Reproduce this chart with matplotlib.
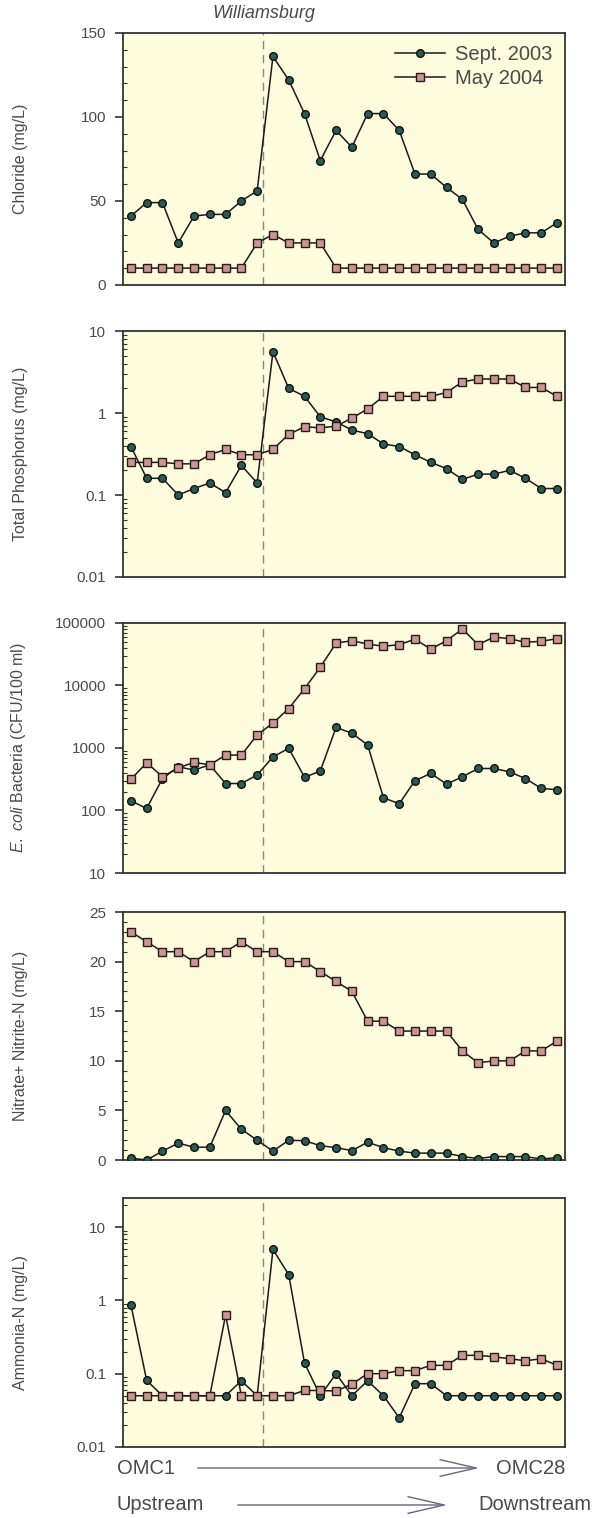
import matplotlib
matplotlib.use("Agg")
import matplotlib.pyplot as plt
import numpy as np
from matplotlib.ticker import MultipleLocator, LogLocator, NullFormatter

plt.rcParams['font.family'] = ['Liberation Sans', 'DejaVu Sans']
plt.rcParams['mathtext.fontset'] = 'custom'
plt.rcParams['mathtext.it'] = 'Liberation Sans:italic'
plt.rcParams['mathtext.rm'] = 'Liberation Sans'

stations = list(range(1, 29))
williamsburg_x = 9.4

chloride_sep = [41, 49, 49, 25, 41, 42, 42, 50, 56, 136, 122, 102, 74, 92, 82, 102, 102, 92,
                66, 66, 58, 51, 33, 25, 29, 31, 31, 37]
chloride_may = [10, 10, 10, 10, 10, 10, 10, 10, 25, 30, 25, 25, 25, 10, 10, 10, 10, 10,
                10, 10, 10, 10, 10, 10, 10, 10, 10, 10]

tp_sep = [0.39, 0.16, 0.16, 0.10, 0.12, 0.14, 0.107, 0.23, 0.14, 5.6, 2.0, 1.6, 0.9, 0.78,
          0.62, 0.56, 0.42, 0.39, 0.31, 0.25, 0.21, 0.155, 0.18, 0.18, 0.20, 0.16, 0.12, 0.12]
tp_may = [0.25, 0.25, 0.25, 0.24, 0.24, 0.31, 0.36, 0.31, 0.31, 0.36, 0.55, 0.68, 0.66, 0.69,
          0.87, 1.12, 1.6, 1.6, 1.6, 1.6, 1.78, 2.4, 2.6, 2.6, 2.6, 2.05, 2.05, 1.6]

ecoli_sep = [143, 108, 325, 500, 444, 537, 270, 270, 370, 720, 990, 340, 427, 2140, 1720,
             1120, 160, 128, 300, 392, 264, 346, 470, 470, 415, 324, 226, 215]
ecoli_may = [315, 580, 347, 480, 590, 537, 770, 770, 1620, 2500, 4270, 8900, 19600, 47700,
             52000, 46000, 42400, 45000, 55000, 38300, 52000, 80000, 45000, 59500, 56000,
             49000, 51000, 56000]

nitrate_sep = [0.2, 0.0, 0.9, 1.7, 1.3, 1.3, 5.0, 3.1, 2.0, 0.9, 2.0, 1.95, 1.45, 1.25, 0.95,
               1.8, 1.25, 0.9, 0.7, 0.7, 0.7, 0.35, 0.15, 0.35, 0.35, 0.35, 0.1, 0.25]
nitrate_may = [23, 22, 21, 21, 20, 21, 21, 22, 21, 21, 20, 20, 19, 18, 17, 14, 14, 13, 13,
               13, 13, 11, 9.8, 10, 10, 11, 11, 12]

ammonia_sep = [0.87, 0.081, 0.05, 0.05, 0.05, 0.05, 0.05, 0.08, 0.05, 4.96, 2.24, 0.14, 0.05,
               0.1, 0.05, 0.08, 0.05, 0.025, 0.073, 0.073, 0.05, 0.05, 0.05, 0.05, 0.05, 0.05,
               0.05, 0.05]
ammonia_may = [0.05, 0.05, 0.05, 0.05, 0.05, 0.05, 0.63, 0.05, 0.05, 0.05, 0.05, 0.059, 0.059,
               0.058, 0.072, 0.1, 0.1, 0.11, 0.11, 0.13, 0.13, 0.178, 0.178, 0.17, 0.16, 0.15,
               0.16, 0.13]

panels = [
    ("Chloride (mg/L)", chloride_sep, chloride_may, "linear", (0, 150), [0, 50, 100, 150], ["0", "50", "100", "150"], 10),
    ("Total Phosphorus (mg/L)", tp_sep, tp_may, "log", (0.01, 10), [0.01, 0.1, 1, 10], ["0.01", "0.1", "1", "10"], None),
    (r"$\mathit{E.\ coli}$ Bacteria (CFU/100 ml)", ecoli_sep, ecoli_may, "log", (10, 100000),
     [10, 100, 1000, 10000, 100000], ["10", "100", "1000", "10000", "100000"], None),
    ("Nitrate+ Nitrite-N (mg/L)", nitrate_sep, nitrate_may, "linear", (0, 25), [0, 5, 10, 15, 20, 25],
     ["0", "5", "10", "15", "20", "25"], 1),
    ("Ammonia-N (mg/L)", ammonia_sep, ammonia_may, "log", (0.01, 25), [0.01, 0.1, 1, 10], ["0.01", "0.1", "1", "10"], None),
]

# axes rectangles in figure fraction (left, bottom, width, height)
rects = [
    (0.2057, 0.8123, 0.739, 0.166),
    (0.2057, 0.6199, 0.739, 0.162),
    (0.2057, 0.4249, 0.739, 0.1647),
    (0.2057, 0.2358, 0.739, 0.1634),
    (0.2057, 0.0468, 0.739, 0.164),
]

bg = '#fdfcdc'
sep_face = '#2f5a4c'
may_face = '#c49a90'
txt = '#4a4a4a'
spine_c = '#333333'

fig = plt.figure(figsize=(5.98, 15.18), dpi=100)

for i, ((label, sep, may, scale, ylim, ticks, tlabels, minor), rect) in enumerate(zip(panels, rects)):
    ax = fig.add_axes(rect)
    ax.set_facecolor(bg)
    ax.axvline(williamsburg_x, color='#888877', linestyle=(0, (6, 4)), linewidth=1.0, zorder=1)
    ax.plot(stations, sep, color='#1a1a1a', linewidth=1.1, marker='o', markersize=5.5,
            markerfacecolor=sep_face, markeredgecolor='#111111', markeredgewidth=1.0,
            label='Sept. 2003', zorder=3)
    ax.plot(stations, may, color='#1a1a1a', linewidth=1.1, marker='s', markersize=5.5,
            markerfacecolor=may_face, markeredgecolor='#2a1a1a', markeredgewidth=1.0,
            label='May 2004', zorder=3)
    ax.set_yscale(scale)
    ax.set_ylim(*ylim)
    ax.set_xlim(0.5, 28.5)
    ax.set_xticks([])
    ax.set_yticks(ticks)
    ax.set_yticklabels(tlabels)
    if scale == 'log':
        ax.yaxis.set_minor_locator(LogLocator(base=10, subs=np.arange(2, 10), numticks=20))
        ax.yaxis.set_minor_formatter(NullFormatter())
    else:
        ax.yaxis.set_minor_locator(MultipleLocator(minor))
    ax.tick_params(axis='y', which='major', direction='out', length=6, width=1.2,
                   labelsize=11, labelcolor=txt, color=spine_c, pad=6)
    ax.tick_params(axis='y', which='minor', direction='in', length=3, width=0.8, color=spine_c)
    for s in ax.spines.values():
        s.set_color(spine_c)
        s.set_linewidth(1.3)
    ax.set_ylabel(label, fontsize=11.5, color=txt)
    ax.yaxis.set_label_coords(-0.215, 0.5)
    if i == 0:
        ax.legend(loc='upper right', frameon=False, fontsize=14.5, handlelength=2.5,
                  handletextpad=0.5, borderaxespad=0.2, labelspacing=0.25,
                  labelcolor=txt)
        ax.text(williamsburg_x, 1.045, 'Williamsburg', transform=ax.get_xaxis_transform(),
                ha='center', va='bottom', fontsize=13, style='italic', color=txt)

# bottom direction annotations
fig.text(117 / 598, 1 - 1468 / 1518, 'OMC1', ha='left', va='center', fontsize=14.5, color=txt)
fig.text(565 / 598, 1 - 1468 / 1518, 'OMC28', ha='right', va='center', fontsize=14.5, color=txt)
fig.text(117 / 598, 1 - 1505 / 1518, 'Upstream', ha='left', va='center', fontsize=14.5, color=txt)
fig.text(592 / 598, 1 - 1505 / 1518, 'Downstream', ha='right', va='center', fontsize=14.5, color=txt)

fig.patches.append(matplotlib.patches.FancyArrowPatch(
    (195 / 598, 1 - 1468 / 1518), (482 / 598, 1 - 1468 / 1518), transform=fig.transFigure,
    arrowstyle='->,head_length=2.6,head_width=0.6', color='#666677', linewidth=1.0,
    mutation_scale=10))
fig.patches.append(matplotlib.patches.FancyArrowPatch(
    (235 / 598, 1 - 1505 / 1518), (450 / 598, 1 - 1505 / 1518), transform=fig.transFigure,
    arrowstyle='->,head_length=2.6,head_width=0.6', color='#666677', linewidth=1.0,
    mutation_scale=10))

fig.savefig('out.png', dpi=100, facecolor='white')
